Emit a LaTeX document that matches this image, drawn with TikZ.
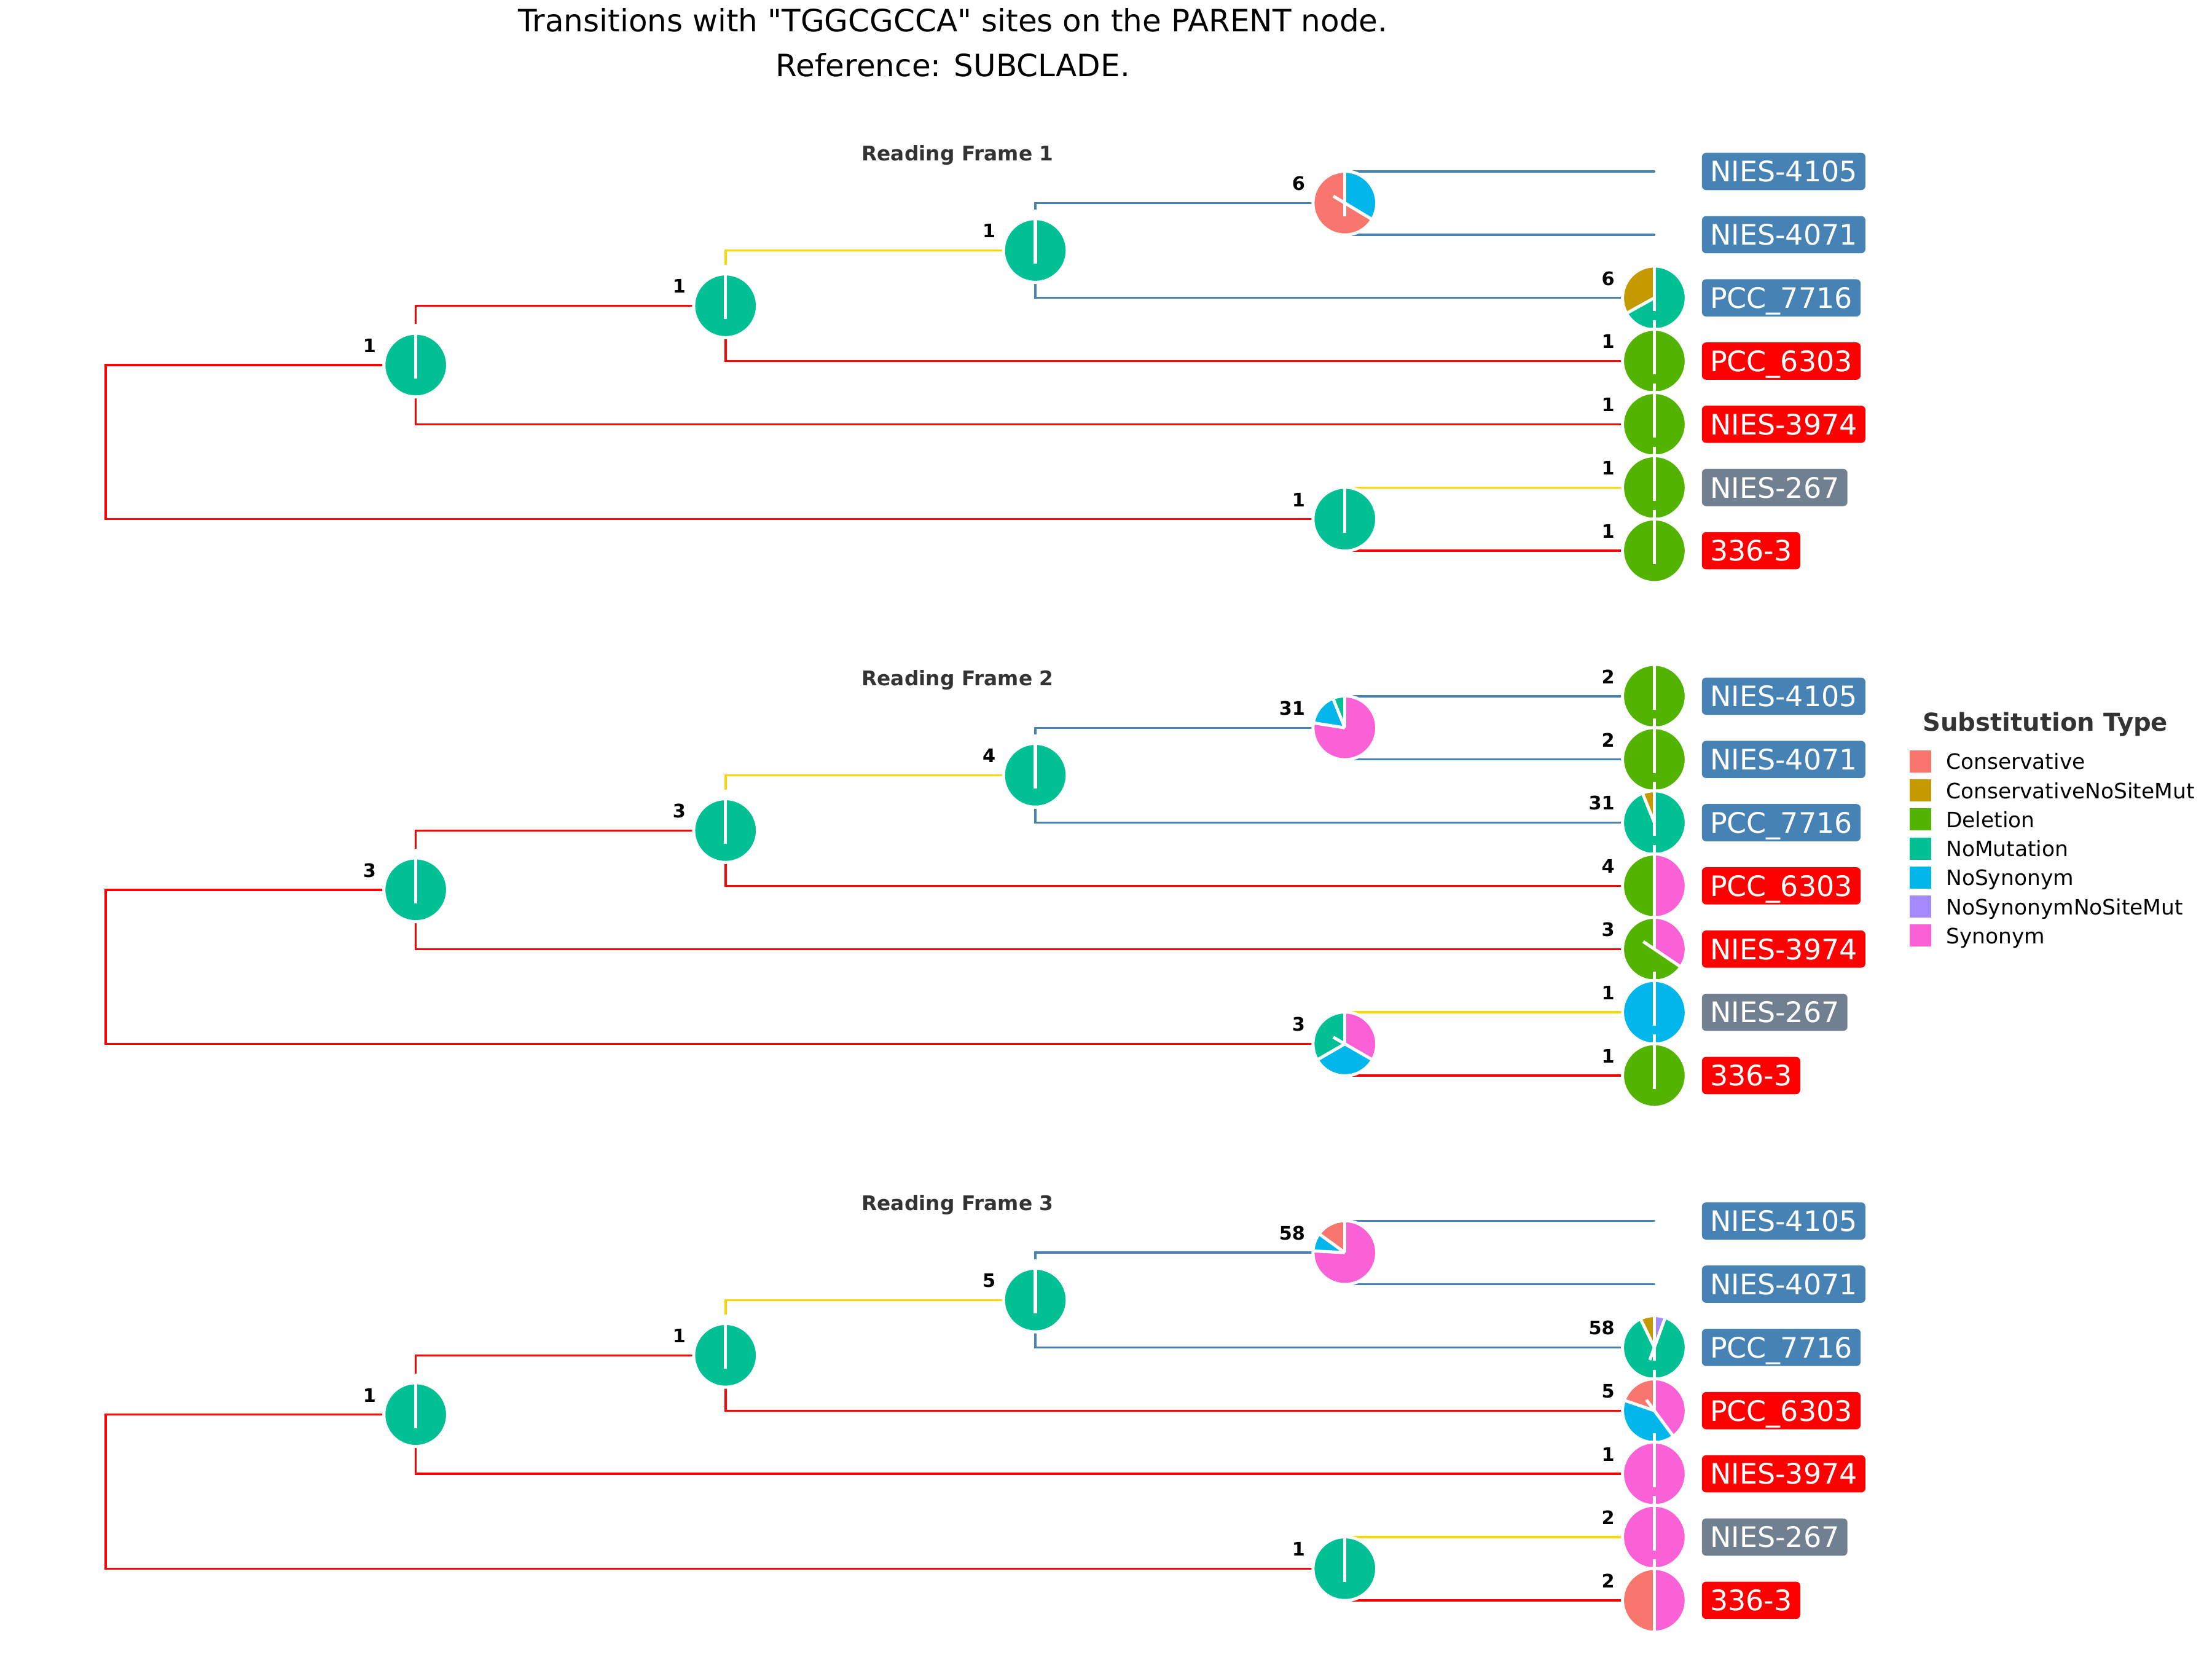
\documentclass[tikz,border=0pt]{standalone}
\usepackage{fontspec}
\setmainfont{DejaVu Sans}[Ligatures=TeXOff]
\definecolor{cCons}{HTML}{F8766D}
\definecolor{cCNSM}{HTML}{C49A00}
\definecolor{cDel}{HTML}{53B400}
\definecolor{cNoMut}{HTML}{00C094}
\definecolor{cNoSyn}{HTML}{00B6EB}
\definecolor{cNSNSM}{HTML}{A58AFF}
\definecolor{cSyn}{HTML}{FB61D7}
\definecolor{eRed}{HTML}{FF0000}
\definecolor{eGold}{HTML}{FFD700}
\definecolor{eBlue}{HTML}{4682B4}
\definecolor{lGray}{HTML}{708090}
\definecolor{tGray}{HTML}{333333}
\tikzset{
  br/.style={line width=1.5pt, line cap=round},
  sepl/.style={draw=white, line width=2.2pt},
  cnt/.style={font=\fontsize{13.2}{15}\selectfont\bfseries, text=black, inner sep=0pt},
  tipbox/.style={rounded corners=3pt, text=white, font=\fontsize{20}{24}\selectfont,
     inner xsep=5.8pt, inner ysep=0pt, minimum height=26.4pt, text height=14.6pt, text depth=0pt, anchor=west},
  rf/.style={font=\fontsize{14.3}{17}\selectfont\bfseries, text=tGray, inner sep=0pt, anchor=base},
  keybox/.style={minimum width=15.3pt, minimum height=15.7pt, inner sep=0pt},
  keylab/.style={font=\fontsize{15}{18}\selectfont, inner sep=0pt, anchor=base west},
  ttl/.style={font=\fontsize{21.8}{26}\selectfont, anchor=base, inner sep=0pt},
}
% pie helpers
\newcommand\PWedge[4]{\fill[#4] (#1) -- ++(#2:22.6) arc[start angle=#2, end angle=#3, radius=22.6] -- cycle;}
\newcommand\PRing[1]{\draw[white, line width=2.2pt] (#1) circle[radius=22.6];}
\newcommand\PTop[2]{\draw[sepl] (#1) ++(0,29) -- ++(0,-29-#2);}
\newcommand\PSep[3]{\draw[sepl] (#1) ++(#2:22.6) -- ++(#2+180:22.6+#3);}
\newcommand\PCount[2]{\node[cnt, anchor=base east] (#1n) at ([shift={(-28,9)}]#1) {#2};}
\newcommand\PFullPie[3]{\fill[#2] (#1) circle[radius=22.6]; \PRing{#1} \PTop{#1}{9.5} \PCount{#1}{#3}}
% tree skeleton
\newcommand\MakeTree[1]{%
  \coordinate (#1R) at (75,-313.3);
  \coordinate (#1A) at (294.7,-258.7);
  \coordinate (#1B) at (514.3,-216.7);
  \coordinate (#1C) at (733.9,-177.5);
  \coordinate (#1D) at (953.3,-143.9);
  \coordinate (#1E) at (953.3,-367.9);
  \coordinate (#1T1) at (1172.7,-121.5);
  \coordinate (#1T2) at (1172.7,-166.3);
  \coordinate (#1T3) at (1172.7,-211.1);
  \coordinate (#1T4) at (1172.7,-255.9);
  \coordinate (#1T5) at (1172.7,-300.7);
  \coordinate (#1T6) at (1172.7,-345.5);
  \coordinate (#1T7) at (1172.7,-390.3);
  \draw[br, eRed] (#1R) |- (#1A);
  \draw[br, eRed] (#1R) |- (#1E);
  \draw[br, eRed] (#1A) |- (#1B);
  \draw[br, eRed] (#1A) |- (#1T5);
  \draw[br, eGold] (#1B) |- (#1C);
  \draw[br, eRed] (#1B) |- (#1T4);
  \draw[br, eBlue] (#1C) |- (#1D);
  \draw[br, eBlue] (#1C) |- (#1T3);
  \draw[br, eBlue] (#1D) |- (#1T1);
  \draw[br, eBlue] (#1D) |- (#1T2);
  \draw[br, eGold] (#1E) |- (#1T6);
  \draw[br, eRed] (#1E) |- (#1T7);
  \node[tipbox, fill=eBlue] (#1L1) at ([xshift=33.5]#1T1) {NIES-4105};
  \node[tipbox, fill=eBlue] (#1L2) at ([xshift=33.5]#1T2) {NIES-4071};
  \node[tipbox, fill=eBlue] (#1L3) at ([xshift=33.5]#1T3) {PCC\_7716};
  \node[tipbox, fill=eRed] (#1L4) at ([xshift=33.5]#1T4) {PCC\_6303};
  \node[tipbox, fill=eRed] (#1L5) at ([xshift=33.5]#1T5) {NIES-3974};
  \node[tipbox, fill=lGray] (#1L6) at ([xshift=33.5]#1T6) {NIES-267};
  \node[tipbox, fill=eRed] (#1L7) at ([xshift=33.5]#1T7) {336-3};
}
\begin{document}
\begin{tikzpicture}[x=1pt,y=1pt]
\useasboundingbox (0,0) rectangle (1568,-1176);
\fill[white] (0,0) rectangle (1568,-1176);
% title
\node[ttl] (title1) at (675.5,-22.5) {Transitions with "TGGCGCCA" sites on the PARENT node.};
\node[ttl] (title2) at (675.5,-54.2) {Reference: SUBCLADE.};

% ---------------- Panel 1 ----------------
\begin{scope}
\MakeTree{a}
\node[rf] (rf1) at (678.8,-114.1) {Reading Frame 1};
\PFullPie{aA}{cNoMut}{1}
\PFullPie{aB}{cNoMut}{1}
\PFullPie{aC}{cNoMut}{1}
\PWedge{aD}{90}{329}{cCons}\PWedge{aD}{329}{450}{cNoSyn}
\PRing{aD}\PTop{aD}{9.5}\PSep{aD}{329}{9.5}\PCount{aD}{6}
\PFullPie{aE}{cNoMut}{1}
\PWedge{aT3}{90}{209}{cCNSM}\PWedge{aT3}{209}{450}{cNoMut}
\PRing{aT3}\PTop{aT3}{9.5}\PSep{aT3}{209}{0}\PCount{aT3}{6}
\PFullPie{aT4}{cDel}{1}
\PFullPie{aT5}{cDel}{1}
\PFullPie{aT6}{cDel}{1}
\PFullPie{aT7}{cDel}{1}
\end{scope}

% ---------------- Panel 2 ----------------
\begin{scope}[yshift=-371.9pt]
\MakeTree{b}
\node[rf] (rf2) at (678.8,-114.1) {Reading Frame 2};
\PFullPie{bA}{cNoMut}{3}
\PFullPie{bB}{cNoMut}{3}
\PFullPie{bC}{cNoMut}{4}
\PWedge{bD}{90}{112}{cNoMut}\PWedge{bD}{112}{171}{cNoSyn}\PWedge{bD}{171}{450}{cSyn}
\PRing{bD}\PTop{bD}{0}\PSep{bD}{112}{0}\PSep{bD}{171}{0}\PCount{bD}{31}
\PWedge{bE}{90}{210}{cNoMut}\PWedge{bE}{210}{330}{cNoSyn}\PWedge{bE}{330}{450}{cSyn}
\PRing{bE}\PTop{bE}{0}\PSep{bE}{210}{0}\PSep{bE}{330}{9.5}\PCount{bE}{3}
\PFullPie{bT1}{cDel}{2}
\PFullPie{bT2}{cDel}{2}
\PWedge{bT3}{90}{112}{cCNSM}\PWedge{bT3}{112}{450}{cNoMut}
\PRing{bT3}\PTop{bT3}{9.5}\PSep{bT3}{112}{0}\PCount{bT3}{31}
\PWedge{bT4}{90}{270}{cDel}\PWedge{bT4}{270}{450}{cSyn}
\PRing{bT4}\PTop{bT4}{22.6}\PCount{bT4}{4}
\PWedge{bT5}{90}{326}{cDel}\PWedge{bT5}{326}{450}{cSyn}
\PRing{bT5}\PTop{bT5}{0}\PSep{bT5}{326}{9.5}\PCount{bT5}{3}
\PFullPie{bT6}{cNoSyn}{1}
\PFullPie{bT7}{cDel}{1}
\end{scope}

% ---------------- Panel 3 ----------------
\begin{scope}[yshift=-743.8pt]
\MakeTree{c}
\node[rf] (rf3) at (678.8,-114.1) {Reading Frame 3};
\PFullPie{cA}{cNoMut}{1}
\PFullPie{cB}{cNoMut}{1}
\PFullPie{cC}{cNoMut}{5}
\PWedge{cD}{90}{144}{cCons}\PWedge{cD}{144}{177}{cNoSyn}\PWedge{cD}{177}{450}{cSyn}
\PRing{cD}\PTop{cD}{0}\PSep{cD}{144}{0}\PSep{cD}{177}{0}\PCount{cD}{58}
\PFullPie{cE}{cNoMut}{1}
\PWedge{cT3}{90}{116}{cCNSM}\PWedge{cT3}{116}{430}{cNoMut}\PWedge{cT3}{430}{450}{cNSNSM}
\PRing{cT3}\PTop{cT3}{9.5}\PSep{cT3}{116}{0}\PSep{cT3}{70}{9.5}\PCount{cT3}{58}
\PWedge{cT4}{90}{161}{cCons}\PWedge{cT4}{161}{306.5}{cNoSyn}\PWedge{cT4}{306.5}{450}{cSyn}
\PRing{cT4}\PTop{cT4}{0}\PSep{cT4}{161}{0}\PSep{cT4}{306.5}{9.5}\PCount{cT4}{5}
\PFullPie{cT5}{cSyn}{1}
\PFullPie{cT6}{cSyn}{2}
\PWedge{cT7}{90}{270}{cCons}\PWedge{cT7}{270}{450}{cSyn}
\PRing{cT7}\PTop{cT7}{22.6}\PCount{cT7}{2}
\end{scope}

% ---------------- Legend ----------------
\node[font=\fontsize{17.5}{20}\selectfont\bfseries, text=tGray, anchor=base west, inner sep=0pt] (legT) at (1362.7,-518) {Substitution Type};
\foreach \i/\c/\t in {0/cCons/Conservative,1/cCNSM/ConservativeNoSiteMut,2/cDel/Deletion,3/cNoMut/NoMutation,4/cNoSyn/NoSynonym,5/cNSNSM/NoSynonymNoSiteMut,6/cSyn/Synonym}{
  \node[keybox, fill=\c] (key\i) at (1361.2,{-539.5-20.6*\i}) {};
  \node[keylab] (klab\i) at (1379.3,{-545.2-20.6*\i}) {\t};
}
\end{tikzpicture}
\end{document}
